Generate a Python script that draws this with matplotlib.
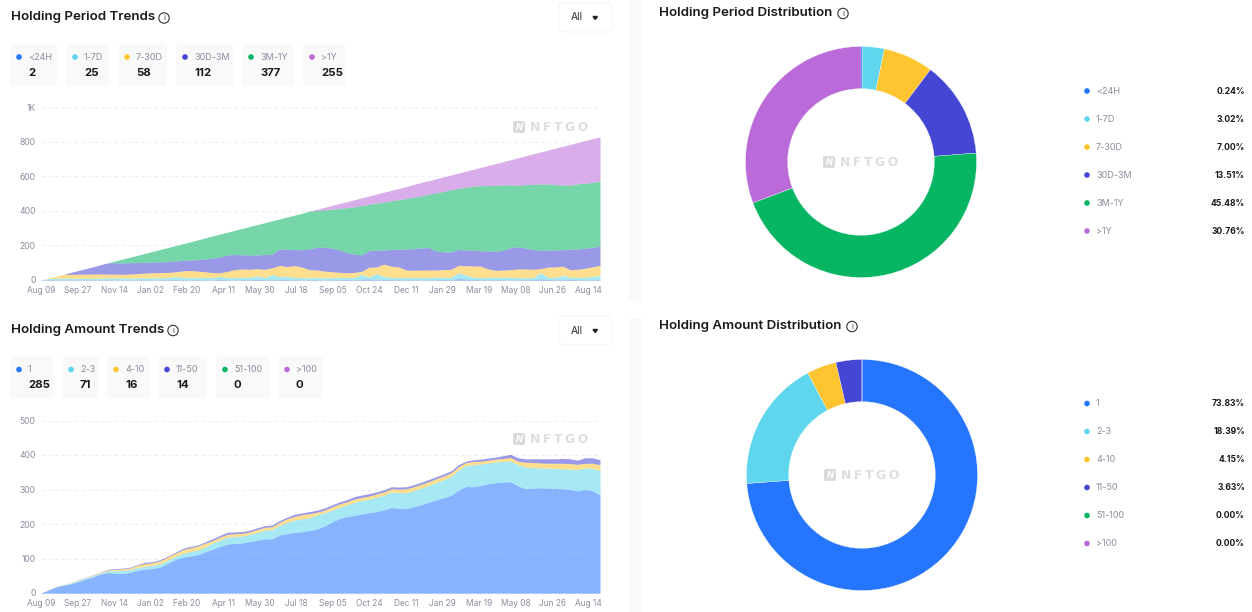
import matplotlib
matplotlib.use('Agg')
import matplotlib.pyplot as plt
from matplotlib.patches import FancyBboxPatch, Rectangle, Circle

plt.rcParams['font.family'] = ['Inter', 'DejaVu Sans']

W, H = 1252, 612

# ---- data: stacked tops, one reading every 10 days ----
days = list(range(0, 760, 10))
date_labels = ['Aug 09', 'Sep 27', 'Nov 14', 'Jan 02', 'Feb 20', 'Apr 11', 'May 30', 'Jul 18',
               'Sep 05', 'Oct 24', 'Dec 11', 'Jan 29', 'Mar 19', 'May 08', 'Jun 26', 'Aug 14']
date_ticks = [0, 49, 98, 147, 196, 245, 294, 343, 392, 441, 490, 539, 588, 637, 686, 735]

period_names = ['<24H', '1-7D', '7-30D', '30D-3M', '3M-1Y', '>1Y']
period_counts = [2, 25, 58, 112, 377, 255]
period_pct = [0.24, 3.02, 7.00, 13.51, 45.48, 30.76]

amount_names = ['1', '2-3', '4-10', '11-50', '51-100', '>100']
amount_counts = [285, 71, 16, 14, 0, 0]
amount_pct = [73.83, 18.39, 4.15, 3.63, 0.00, 0.00]

period_top0 = [0, 2, 2, 1, 2, 1, 2, 1, 2, 2, 1, 2, 1, 2, 2, 1, 2, 2, 3, 2, 1, 2, 2, 1, 3, 2, 1, 2, 2, 3,
               2, 2, 3, 2, 2, 1, 2, 2, 1, 2, 2, 3, 2, 4, 6, 4, 3, 2, 2, 2, 2, 1, 2, 2, 3, 2, 8, 5, 3, 2,
               2, 2, 2, 1, 2, 2, 3, 6, 4, 2, 3, 4, 2, 2, 2, 2]
period_top1 = [0, 8, 9, 10, 11, 10, 11, 10, 11, 12, 11, 12, 11, 12, 13, 13, 12, 14, 20, 15, 13, 14, 15, 14, 21, 15, 14, 15, 16, 24,
               15, 31, 19, 22, 15, 14, 13, 14, 13, 14, 15, 15, 14, 33, 16, 37, 21, 15, 14, 14, 15, 14, 15, 16, 15, 16, 42, 28, 17, 14,
               15, 16, 15, 16, 14, 13, 14, 42, 17, 15, 27, 16, 15, 16, 21, 27]
period_top2 = [0, 11, 22, 33, 33, 33, 34, 35, 35, 34, 34, 33, 35, 37, 40, 42, 43, 44, 47, 53, 55, 52, 48, 43, 42, 50, 60, 64, 62, 66,
               62, 70, 85, 78, 84, 75, 60, 58, 52, 48, 45, 42, 44, 50, 74, 76, 92, 80, 76, 58, 56, 58, 58, 58, 60, 62, 85, 83, 82, 80,
               64, 56, 58, 60, 64, 64, 62, 66, 75, 76, 80, 60, 62, 68, 76, 85]
period_top3 = [0, 11, 22, 33, 44, 55, 66, 77, 89, 100, 100, 99, 100, 101, 103, 104, 105, 107, 110, 114, 116, 118, 122, 128, 133, 145, 148, 146, 144, 145,
               148, 150, 180, 178, 176, 176, 180, 190, 190, 185, 175, 160, 150, 146, 170, 172, 174, 177, 178, 180, 182, 186, 188, 168, 163, 162, 177, 175, 172, 170,
               168, 167, 172, 188, 192, 185, 176, 171, 172, 174, 176, 178, 180, 184, 189, 197]
period_top4 = [0, 11, 22, 33, 44, 55, 66, 77, 89, 100, 111, 122, 133, 144, 155, 166, 177, 188, 199, 210, 221, 232, 244, 255, 266, 277, 288, 299, 310, 321,
               332, 343, 354, 365, 376, 387, 399, 403, 407, 411, 415, 419, 424, 431, 439, 446, 452, 459, 466, 473, 479, 488, 497, 506, 513, 523, 531, 538, 544, 547,
               548, 548, 551, 552, 549, 553, 554, 556, 557, 552, 551, 550, 558, 561, 566, 574]
period_top5 = [0, 11, 22, 33, 44, 55, 66, 77, 89, 100, 111, 122, 133, 144, 155, 166, 177, 188, 199, 210, 221, 232, 244, 255, 266, 277, 288, 299, 310, 321,
               332, 343, 354, 365, 376, 387, 399, 410, 421, 432, 443, 454, 465, 476, 487, 498, 509, 520, 531, 542, 554, 565, 576, 587, 598, 609, 620, 631, 642, 653,
               664, 675, 686, 697, 709, 720, 731, 742, 753, 764, 775, 786, 797, 808, 819, 829]

amount_top0 = [0, 9, 18, 23, 27, 33, 40, 47, 55, 59, 57, 57, 60, 66, 69, 71, 75, 86, 97, 104, 107, 111, 119, 127, 135, 142, 144, 145, 149, 153,
               157, 157, 168, 172, 176, 178, 181, 185, 194, 205, 216, 221, 225, 229, 233, 236, 241, 248, 246, 245, 250, 256, 263, 270, 276, 283, 298, 309, 308, 312,
               317, 320, 322, 322, 310, 303, 304, 305, 304, 303, 302, 300, 296, 300, 296, 285]
amount_top1 = [0, 9, 18, 24, 29, 36, 43, 50, 58, 64, 65, 66, 68, 74, 78, 80, 85, 95, 106, 115, 120, 125, 133, 145, 153, 162, 164, 165, 170, 176,
               182, 184, 196, 205, 211, 215, 218, 226, 232, 240, 248, 255, 263, 268, 272, 278, 283, 293, 291, 291, 297, 304, 312, 320, 328, 338, 356, 369, 372, 374,
               377, 380, 382, 383, 372, 365, 364, 363, 362, 361, 360, 359, 358, 363, 361, 356]
amount_top2 = [0, 9, 19, 25, 30, 37, 44, 52, 60, 67, 69, 70, 73, 81, 85, 88, 94, 104, 115, 125, 131, 136, 144, 152, 162, 170, 172, 173, 177, 184,
               190, 192, 205, 215, 222, 227, 230, 234, 240, 249, 258, 264, 272, 277, 281, 287, 293, 302, 301, 302, 308, 315, 323, 331, 339, 348, 366, 378, 381, 382,
               385, 388, 390, 393, 382, 379, 378, 377, 376, 376, 376, 375, 373, 376, 376, 372]
amount_top3 = [0, 9, 19, 25, 30, 38, 45, 53, 61, 69, 71, 72, 75, 83, 89, 91, 97, 107, 118, 129, 135, 139, 148, 157, 167, 176, 177, 178, 182, 189,
               195, 197, 210, 220, 228, 232, 236, 240, 246, 255, 264, 270, 279, 284, 288, 293, 299, 308, 307, 308, 314, 321, 329, 337, 345, 354, 372, 382, 386, 388,
               391, 394, 398, 402, 392, 389, 389, 389, 389, 389, 390, 389, 385, 392, 392, 386]

period_yticks = [0, 200, 400, 600, 800, 1000]
period_ylabels = ['0', '200', '400', '600', '800', '1K']
amount_yticks = [0, 100, 200, 300, 400, 500]

colors = ['#2575FF', '#5FD6EE', '#FFC530', '#4546D4', '#07B563', '#BB6BD9']
GREY = '#8A8D9F'
DARK = '#1A1A1A'


def px_axes(fig, left, top, right, bottom):
    return fig.add_axes([left / W, 1 - bottom / H, (right - left) / W, (bottom - top) / H])


def area_chart(fig, top, bottom, tops, ymax, yticks, ylabels):
    ax = px_axes(fig, 41, top, 600, bottom)
    prev = [0] * len(days)
    for top_vals, c in zip(tops, colors):
        ax.fill_between(days, prev, top_vals, color=c, alpha=0.55, linewidth=0, zorder=3)
        prev = top_vals
    ax.set_xlim(0, 750)
    ax.set_ylim(0, ymax)
    ax.set_yticks(yticks)
    ax.set_yticklabels(ylabels, fontsize=6.2, color=GREY)
    ax.set_xticks(date_ticks)
    ax.set_xticklabels(date_labels, fontsize=6.0, color=GREY)
    ax.tick_params(length=0, pad=4)
    ax.tick_params(axis='y', pad=4)
    ax.grid(axis='y', color='#EDEDF0', linestyle=(0, (3, 3)), linewidth=0.8, zorder=0)
    for s in ax.spines.values():
        s.set_visible(False)
    ax.spines['bottom'].set_visible(True)
    ax.spines['bottom'].set_color('#E6E6EC')
    ax.spines['bottom'].set_linewidth(0.8)
    ax.patch.set_alpha(0)
    return ax


def donut(fig, cx, cy, pct):
    r = 115.5
    ax = px_axes(fig, cx - r, cy - r, cx + r, cy + r)
    ax.pie(pct, colors=colors, startangle=90, counterclock=False, radius=1,
           wedgeprops={'width': 0.365, 'edgecolor': 'white', 'linewidth': 0.2})
    ax.set_xlim(-1, 1)
    ax.set_ylim(-1, 1)
    ax.patch.set_alpha(0)


fig = plt.figure(figsize=(W / 100, H / 100), dpi=100, facecolor='white')

# overlay in pixel coordinates for the page furniture
bg = fig.add_axes([0, 0, 1, 1], zorder=5)
bg.set_xlim(0, W)
bg.set_ylim(H, 0)
bg.axis('off')
bg.patch.set_alpha(0)


def card(x, y, w, h, fc='#F9F9F9', ec='none', rad=4):
    bg.add_patch(FancyBboxPatch((x + rad, y + rad), w - 2 * rad, h - 2 * rad,
                                boxstyle='round,pad=%d,rounding_size=%d' % (rad, rad),
                                fc=fc, ec=ec, lw=0.6, zorder=1))


def info_icon(x, y):
    bg.add_patch(Circle((x, y), 5.2, fc='white', ec='#333333', lw=0.8))
    bg.text(x, y + 0.2, 'i', fontsize=5.5, color='#333333', ha='center', va='center')


def watermark(x, y):
    bg.add_patch(FancyBboxPatch((x + 2, y - 4), 8, 8, boxstyle='round,pad=2,rounding_size=2',
                                fc='#DADADA', ec='none', zorder=6))
    bg.text(x + 6, y + 0.2, 'N', fontsize=6.5, color='white', fontweight='bold', style='italic',
            ha='center', va='center', zorder=7)
    bg.text(x + 17, y + 0.5, 'N\u2009F\u2009T\u2009G\u2009O', fontsize=9, color='#DEDEDE', fontweight='bold',
            ha='left', va='center', zorder=7, family='DejaVu Sans')


def select_box(x, y):
    card(x, y, 53, 29, fc='white', ec='#F2F2F2', rad=5)
    bg.text(x + 12, y + 14.5, 'All', fontsize=7.4, color='#333333', va='center')
    bg.fill([x + 34, x + 38.5, x + 36.2], [y + 13.5, y + 13.5, y + 16.5], color='#222222')


def stat_cards(y, names, counts, xs, widths):
    for i in range(6):
        card(xs[i], y, widths[i], 42)
        bg.add_patch(Circle((xs[i] + 9, y + 13), 2.8, fc=colors[i], ec='none', zorder=3))
        bg.text(xs[i] + 18, y + 13, names[i], fontsize=6.5, color=GREY, va='center', zorder=3)
        bg.text(xs[i] + 18, y + 28.5, str(counts[i]), fontsize=8.2, color=DARK,
                fontweight='bold', va='center', ha='left', zorder=3)


def legend_list(y0, names, pct):
    for i in range(6):
        y = y0 + i * 28
        bg.add_patch(Circle((1087, y), 2.8, fc=colors[i], ec='none'))
        bg.text(1096, y, names[i], fontsize=6.5, color=GREY, va='center')
        bg.text(1245, y, '%.2f%%' % pct[i], fontsize=6.2, color=DARK, fontweight='bold', va='center', ha='right')


# separators between the panels
bg.add_patch(Rectangle((629, 0), 13, 301, fc='#F9F9F9', ec='none', zorder=0))
bg.add_patch(Rectangle((629, 318), 13, 294, fc='#F9F9F9', ec='none', zorder=0))

# titles
bg.text(11, 17, 'Holding Period Trends', fontsize=9.6, color=DARK, fontweight='semibold', va='center')
info_icon(164, 18)
bg.text(659, 13, 'Holding Period Distribution', fontsize=9.6, color=DARK, fontweight='semibold', va='center')
info_icon(843, 13.5)
bg.text(11, 330, 'Holding Amount Trends', fontsize=9.6, color=DARK, fontweight='semibold', va='center')
info_icon(173, 330.5)
bg.text(659, 326, 'Holding Amount Distribution', fontsize=9.6, color=DARK, fontweight='semibold', va='center')
info_icon(852, 326.5)

select_box(559, 3)
select_box(559, 316)

stat_cards(44, period_names, period_counts, [10, 66, 118, 176, 242, 303], [47, 43, 49, 58, 52, 43])
stat_cards(356.5, amount_names, amount_counts, [10, 62, 107, 158, 216, 278], [43, 37, 43, 49, 54, 45])

legend_list(91, period_names, period_pct)
legend_list(403.5, amount_names, amount_pct)

area_chart(fig, 107.5, 280, [period_top0, period_top1, period_top2, period_top3, period_top4, period_top5],
           1000, period_yticks, period_ylabels)
area_chart(fig, 420.5, 593, [amount_top0, amount_top1, amount_top2, amount_top3],
           500, amount_yticks, [str(v) for v in amount_yticks])

donut(fig, 861, 162, period_pct)
donut(fig, 862, 475, amount_pct)

watermark(513, 127)
watermark(513, 439)
watermark(823, 162)
watermark(824, 475)

fig.savefig('out.png', dpi=100)
